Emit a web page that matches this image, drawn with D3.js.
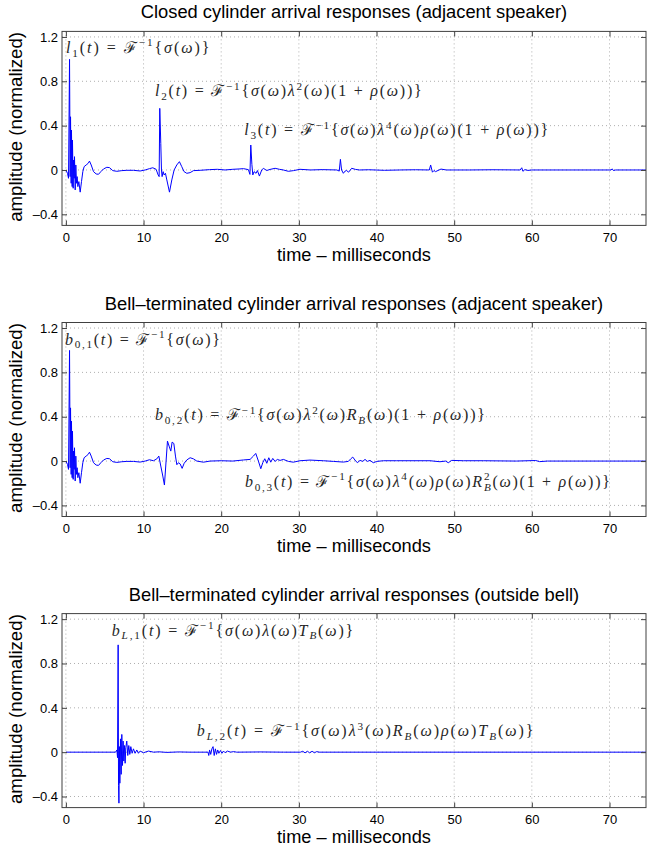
<!DOCTYPE html>
<html><head><meta charset="utf-8">
<script src="https://cdn.jsdelivr.net/npm/d3@7"></script>
<style>body{margin:0;background:#fff}svg{display:block}</style>
</head><body>
<svg id="chart" width="647" height="847"></svg>
<script>
// ---------- data ----------
const xTicks = [0, 10, 20, 30, 40, 50, 60, 70];
const yTicks = [-0.4, 0, 0.4, 0.8, 1.2];
const xDomain = [-0.5, 74.7];
const yDomain = [-0.5, 1.25];
const titles = [
  "Closed cylinder arrival responses (adjacent speaker)",
  "Bell\u2013terminated cylinder arrival responses (adjacent speaker)",
  "Bell\u2013terminated cylinder arrival responses (outside bell)"
];
const xLabel = "time \u2013 milliseconds";
const yLabel = "amplitude (normalized)";

// direct arrival (same in both adjacent-speaker panels), [time ms, amplitude]
const directArrival = [
  [0,0],[0.21,-0.03],[0.34,-0.075],[0.47,0.998],[0.55,-0.06],[0.60,0.48],[0.68,-0.12],
  [0.72,0.36],[0.81,-0.15],[0.85,0.27],[0.94,-0.165],[0.98,0.09],[1.07,-0.075],[1.11,0.12],
  [1.20,-0.18],[1.28,0.045],[1.37,-0.12],[1.45,-0.06],[1.54,-0.15],[1.67,-0.105],[1.84,-0.20],
  [2.01,-0.105],[2.18,-0.015],[2.35,0.03],[2.61,0.045],[2.87,0.06],[3.04,0.08],[3.26,0.045],
  [3.56,-0.015],[3.90,-0.036],[4.20,-0.039],[4.50,-0.015],[4.84,0.009],[5.27,0.024],[5.62,0.021],
  [6.04,-0.006],[6.56,-0.012],[7.20,-0.006],[7.85,-0.003],[8.70,-0.003],[9.56,-0.009],[10.21,0.0],
  [10.76,0.012]
];
// later arrivals, closed cylinder
const closedLater = [
  [11.19,0.02],[11.62,0.006],[11.88,-0.045],[12.01,-0.06],[12.09,0.556],[12.22,0.24],[12.31,0.0],
  [12.39,-0.06],[12.52,-0.015],[12.65,-0.045],[12.82,-0.03],[13.0,-0.09],[13.34,-0.2],[13.64,-0.09],
  [13.94,0.0],[14.28,0.045],[14.62,0.075],[14.92,0.03],[15.22,-0.015],[15.57,-0.03],[16.0,-0.024],
  [16.43,-0.006],[17.29,-0.003],[18.5,0.003],[19.5,0.006],[20.5,0.0],[21.5,0.006],[22.3,0.009],
  [22.86,0.012],[23.5,0.003],[23.7,-0.04],[23.81,0.225],[23.95,0.05],[24.07,-0.045],[24.23,-0.015],
  [24.49,-0.03],[24.66,-0.005],[24.92,-0.055],[25.22,0.0],[25.43,0.015],[25.86,-0.005],[26.29,0.005],
  [26.94,0.015],[27.5,0.006],[28.0,0.0],[28.65,-0.012],[29.3,-0.006],[30.15,0.006],[31.5,0.0],
  [33,0.003],[34.9,0.0],[35.2,-0.01],[35.35,0.096],[35.5,0.0],[35.73,-0.03],[35.95,-0.01],
  [36.15,-0.005],[36.4,-0.02],[36.8,0.015],[37.3,0.005],[37.8,0.0],[39,0.002],[41,-0.003],[43,0.0],
  [45,0.002],[46.8,0.0],[46.97,0.045],[47.2,-0.02],[47.4,-0.005],[47.6,-0.015],[48.3,0.008],[49,0.0],
  [52,0.0],[55,0.002],[58.5,0.0],[58.7,0.02],[58.85,-0.012],[59.1,0.003],[59.5,-0.004],[60,0.0],
  [65,0.0],[70.2,0.0],[70.35,0.01],[70.5,-0.005],[70.8,0.0],[74.7,0.0]
];
// later arrivals, bell-terminated cylinder (adjacent speaker)
const bellLater = [
  [11.28,0.003],[11.71,0.02],[11.97,0.045],[12.22,-0.045],[12.48,-0.135],[12.69,-0.216],[13.08,0.18],
  [13.29,0.135],[13.51,0.09],[13.68,0.171],[13.9,0.159],[14.11,0.045],[14.29,-0.033],[14.49,-0.015],
  [14.71,-0.025],[14.97,-0.066],[15.23,-0.02],[15.57,0.01],[16.0,0.03],[16.42,0.02],[16.86,0.0],
  [17.71,-0.01],[18.57,0.0],[20,0.003],[21.5,0.0],[22.86,0.01],[23.72,0.015],[24.15,0.045],
  [24.45,0.069],[24.79,0.0],[25.1,-0.069],[25.35,-0.015],[25.61,0.021],[25.87,-0.02],[26.13,0.03],
  [26.38,-0.01],[26.64,0.024],[26.94,-0.003],[27.23,0.015],[27.58,0.006],[28.01,0.015],[28.65,-0.003],
  [29.29,-0.01],[30.15,0.003],[31.44,0.009],[33.15,0.003],[34.44,-0.003],[35.73,-0.009],[36.37,-0.003],
  [36.68,0.02],[36.94,0.036],[37.23,0.009],[37.53,-0.015],[37.88,0.006],[38.22,-0.003],[38.52,0.015],
  [38.82,-0.003],[39.16,0.006],[39.59,-0.015],[40.03,-0.003],[40.88,0.003],[42.6,0.003],[46.89,0.003],
  [48.17,-0.006],[48.9,0.0],[49.24,-0.015],[49.68,0.006],[51.17,0.003],[53.74,0.003],[58,0.0],
  [60.5,0.005],[61,-0.005],[62,0.0],[74.7,0.0]
];
// bell-terminated cylinder, outside bell
const outsideBell = [
  [0,0],[6.4,0],[6.57,0.02],[6.65,-0.05],[6.73,0.968],[6.78,-0.3],[6.83,-0.46],[6.9,0.05],
  [6.95,-0.28],[7.03,0.12],[7.12,-0.2],[7.2,0.16],[7.29,-0.12],[7.37,0.1],[7.46,-0.08],[7.54,0.06],
  [7.63,-0.1],[7.71,0.04],[7.84,0.1],[7.97,-0.03],[8.1,0.06],[8.23,-0.02],[8.36,0.05],[8.53,-0.01],
  [8.7,0.03],[8.91,-0.01],[9.13,0.02],[9.34,-0.01],[9.56,0.01],[9.99,-0.005],[10.64,0.01],[11.28,0.0],
  [12,0.003],[13,-0.002],[14.5,0.002],[16,0.0],[18.3,0.0],[18.4,-0.03],[18.5,0.02],[18.65,-0.02],
  [18.8,0.03],[18.95,0.05],[19.1,-0.03],[19.25,0.03],[19.4,-0.02],[19.55,0.02],[19.7,-0.01],
  [19.9,0.015],[20.1,-0.01],[20.3,0.01],[20.5,-0.005],[20.8,0.01],[21.2,0.0],[21.6,0.005],[22,0],
  [25,0.002],[28,0],[30.2,0.0],[30.5,0.008],[30.8,-0.006],[31.1,0.008],[31.4,-0.006],[31.7,0.008],
  [32.0,-0.005],[32.3,0.005],[32.6,0],[34,0],[74.7,0]
];

// annotations: tex-like strings, anchored in data units (t, amplitude)
const annotations = [
  [
    {tex:"l_[1](t) = ℱ^[−1]{σ(ω)}", t:0, v:1.055, width:143.6},
    {tex:"l_[2](t) = ℱ^[−1]{σ(ω)λ^[2](ω)(1 + ρ(ω))}", t:11.475, v:0.665, width:266.7},
    {tex:"l_[3](t) = ℱ^[−1]{σ(ω)λ^[4](ω)ρ(ω)(1 + ρ(ω))}", t:22.97, v:0.311, width:304}
  ],
  [
    {tex:"b_[0,1](t) = ℱ^[−1]{σ(ω)}", t:-0.11, v:1.051, width:155},
    {tex:"b_[0,2](t) = ℱ^[−1]{σ(ω)λ^[2](ω)R_[B](ω)(1 + ρ(ω))}", t:11.475, v:0.366, width:330},
    {tex:"b_[0,3](t) = ℱ^[−1]{σ(ω)λ^[4](ω)ρ(ω)R^[2]_[B](ω)(1 + ρ(ω))}", t:23.06, v:-0.234, width:366.7}
  ],
  [
    {tex:"b_[L,1](t) = ℱ^[−1]{σ(ω)λ(ω)T_[B](ω)}", t:5.9, v:1.052, width:241.6},
    {tex:"b_[L,2](t) = ℱ^[−1]{σ(ω)λ^[3](ω)R_[B](ω)ρ(ω)T_[B](ω)}", t:16.85, v:0.143, width:336.6}
  ]
];

const series = [
  directArrival.concat(closedLater),
  directArrival.concat(bellLater),
  outsideBell
];

// ---------- layout ----------
const left = 62, axW = 584, axH = 194;
const tops = [31.4, 322.5, 613.6];
const sansFont = "'Liberation Sans', Arial, Helvetica, sans-serif";
const serifFont = "'Liberation Serif', 'DejaVu Serif', serif";

const svg = d3.select("#chart");
const x = d3.scaleLinear().domain(xDomain).range([0, axW]);
const y = d3.scaleLinear().domain(yDomain).range([axH, 0]);
const fmt = d => d < 0 ? "\u2013" + Math.abs(d) : String(d);

function fitText(sel, target, base) {
  sel.attr("font-size", base);
  const w = sel.node().getComputedTextLength();
  sel.attr("font-size", base * target / w);
}

function parseTex(s) {
  const segs = []; let i = 0;
  while (i < s.length) {
    const c = s[i];
    if ((c === "_" || c === "^") && s[i + 1] === "[") {
      const j = s.indexOf("]", i);
      segs.push({txt: s.slice(i + 2, j), lvl: c === "_" ? "sub" : "sup"});
      i = j + 1;
    } else { segs.push({txt: c, lvl: "base"}); i++; }
  }
  return segs;
}

function renderTex(g, s, fs, gap) {
  g.selectAll("*").remove();
  const segs = parseTex(s);
  let cx = 0, prev = null;
  segs.forEach(seg => {
    const size = seg.lvl === "base" ? fs : fs * 0.7;
    const dy = seg.lvl === "sub" ? fs * 0.24 : seg.lvl === "sup" ? -fs * 0.42 : 0;
    const stacked = seg.lvl === "sub" && prev && prev.lvl === "sup";
    let start = stacked ? prev.start : cx;
    let px = start;
    for (const ch of seg.txt) {
      const it = /[A-Za-z\u03B1-\u03C9]/.test(ch);
      const t = g.append("text")
        .attr("x", px).attr("y", dy)
        .attr("font-size", size)
        .attr("font-style", it ? "italic" : "normal")
        .attr("font-family", ch === "ℱ" ? "'DejaVu Serif', serif" : serifFont)
        .text(ch === " " ? "\u00A0" : ch);
      px += t.node().getComputedTextLength() + gap;
    }
    cx = stacked ? Math.max(prev.end, px) : px;
    prev = {lvl: seg.lvl, start: start, end: px};
  });
  return cx - gap;
}

tops.forEach((top, p) => {
  const g = svg.append("g").attr("transform", `translate(${left},${top})`);

  // grid
  g.append("g").selectAll("line").data(xTicks).join("line")
    .attr("x1", d => x(d)).attr("x2", d => x(d)).attr("y1", 0).attr("y2", axH)
    .attr("stroke", "#9a9a9a").attr("stroke-width", 0.8).attr("stroke-dasharray", "1,3");
  g.append("g").selectAll("line").data(yTicks).join("line")
    .attr("x1", 0).attr("x2", axW).attr("y1", d => y(d)).attr("y2", d => y(d))
    .attr("stroke", "#9a9a9a").attr("stroke-width", 0.8).attr("stroke-dasharray", "1,3");

  // data line
  const line = d3.line().x(d => x(d[0])).y(d => y(d[1]));
  g.append("path").datum(series[p])
    .attr("d", line).attr("fill", "none").attr("stroke", "#0000ff")
    .attr("stroke-width", 1).attr("stroke-linejoin", "round");

  // axes (inward ticks, MATLAB style)
  const styleAxis = a => {
    a.select(".domain").remove();
    a.selectAll(".tick line").attr("stroke", "#404040");
    a.selectAll(".tick text").attr("font-family", sansFont).attr("font-size", 13).attr("fill", "#000");
  };
  g.append("g").attr("transform", `translate(0,${axH})`)
    .call(d3.axisBottom(x).tickValues(xTicks).tickFormat(fmt).tickSizeInner(-5).tickSizeOuter(0).tickPadding(7))
    .call(styleAxis);
  g.append("g")
    .call(d3.axisTop(x).tickValues(xTicks).tickFormat("").tickSizeInner(-5).tickSizeOuter(0))
    .call(styleAxis);
  g.append("g")
    .call(d3.axisLeft(y).tickValues(yTicks).tickFormat(fmt).tickSizeInner(-5).tickSizeOuter(0).tickPadding(4))
    .call(styleAxis);
  g.append("g").attr("transform", `translate(${axW},0)`)
    .call(d3.axisRight(y).tickValues(yTicks).tickFormat("").tickSizeInner(-5).tickSizeOuter(0))
    .call(styleAxis);

  // box
  g.append("rect").attr("x", 0).attr("y", 0).attr("width", axW).attr("height", axH)
    .attr("fill", "none").attr("stroke", "#404040").attr("stroke-width", 1);

  // title
  const titleW = [426.7, 499, 450.7][p];
  const tt = g.append("text").attr("x", axW / 2).attr("y", -13)
    .attr("text-anchor", "middle").attr("font-family", sansFont).attr("fill", "#000")
    .text(titles[p]);
  fitText(tt, titleW, 17);

  // x label
  const xl = g.append("text").attr("x", axW / 2).attr("y", axH + 35.5)
    .attr("text-anchor", "middle").attr("font-family", sansFont).attr("fill", "#000")
    .text(xLabel);
  fitText(xl, 154, 18);

  // y label
  const yl = g.append("text")
    .attr("transform", `translate(${21.5 - left},${axH / 2 - 1.5}) rotate(-90)`)
    .attr("text-anchor", "middle").attr("font-family", sansFont).attr("fill", "#000")
    .text(yLabel);
  fitText(yl, 190, 18);

  // annotations
  annotations[p].forEach(a => {
    const ag = g.append("g").attr("transform", `translate(${x(a.t)},${y(a.v)})`).attr("fill", "#262626");
    const fs = 16;
    const nat = renderTex(ag, a.tex, fs, 0);
    const n = ag.selectAll("text").size();
    const gap = (a.width - nat) / (n - 1);
    renderTex(ag, a.tex, fs, gap);
  });
});
</script>
</body></html>
